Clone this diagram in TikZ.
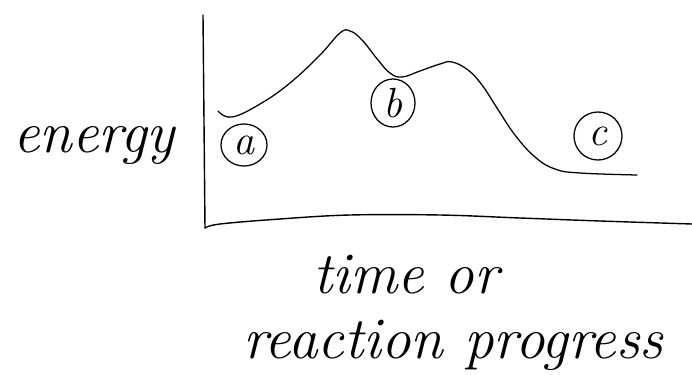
\documentclass[tikz,border=0pt]{standalone}
\usepackage{tikz}
\usetikzlibrary{positioning, shapes.geometric}

\begin{document}
\begin{tikzpicture}[
            x=0.025cm, y=-0.025cm,
            axisline/.style={
                line width=1pt,
                line cap=round
            },
            curveline/.style={
                line width=0.9pt,
                line cap=round,
                line join=round
            },
            handtext/.style={
                font=\fontsize{42}{50}\selectfont\itshape,
                inner sep=0pt
            },
            tag/.style={
                ellipse,
                draw,
                line width=0.9pt,
                inner sep=0pt,
                font=\fontsize{30}{34}\selectfont\itshape
            }
        ]
            \useasboundingbox (0,0) rectangle (692,375);

            \coordinate (top) at (203,15);
            \coordinate (origin) at (205,228);
            \coordinate (right) at (692,224);

            % axes
            \draw [axisline] (top) -- (origin);
            \draw [axisline] plot [smooth, tension=0.6] coordinates
                {(205,228) (220,224) (280,219) (350,215) (440,215) (520,218) (600,221) (692,224)};

            % energy curve
            \draw [curveline] plot [smooth, tension=0.7] coordinates
                {(218,111) (232,117) (260,104) (290,83) (320,55) (340,33) (350,31) (362,40)
                 (378,60) (390,73) (402,77) (420,71) (440,64) (452,62) (468,70)
                 (482,85) (497,108) (515,135) (535,157) (555,169) (580,173) (637,175)};

            % circled states
            \node [tag, minimum width=1.15cm, minimum height=1.05cm] (a) at (244,145) {a};
            \node [tag, minimum width=1.1cm, minimum height=1.2cm] (b) at (393,103) {b};
            \node [tag, minimum width=1.2cm, minimum height=1.2cm] (c) at (598,136) {c};

            % axis labels
            \node [handtext, anchor=base west] (energy) at (13,152) {energy};
            \node [handtext, anchor=base west] (time) at (313,293) {time or};
            \node [handtext, anchor=base west] (progress) at (243,358) {reaction progress};

        \end{tikzpicture}
\end{document}
